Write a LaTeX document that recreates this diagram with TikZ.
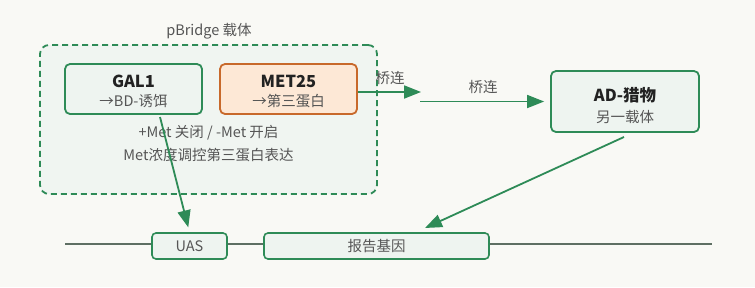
\documentclass[tikz,border=0pt]{standalone}
\usepackage{fontspec}
\setmainfont{Noto Sans CJK SC}
\usetikzlibrary{arrows.meta}
\definecolor{bgc}{HTML}{F9F9F5}
\definecolor{gline}{HTML}{2E8B57}
\definecolor{gfill}{HTML}{EEF4F0}
\definecolor{ofill}{HTML}{FDE8D6}
\definecolor{oline}{HTML}{C8692B}
\definecolor{txtg}{HTML}{555555}
\definecolor{txtd}{HTML}{222222}
\definecolor{dnaline}{HTML}{5E6F63}
\tikzset{
  genebox/.style={draw=gline, line width=1.8pt, fill=gfill, rounded corners=5pt, minimum width=137pt, minimum height=50pt, inner sep=0pt},
  metbox/.style={genebox, draw=oline, fill=ofill},
  elbox/.style={draw=gline, line width=1.6pt, fill=gfill, rounded corners=4pt, minimum height=26pt, inner sep=0pt},
  lbl/.style={text=txtg, font=\fontsize{14.5}{16}\selectfont, inner sep=0pt},
  bld/.style={text=txtd, font=\bfseries\fontsize{16.5}{18}\selectfont, inner sep=0pt},
  arr/.style={draw=gline, line width=1.8pt, -{Triangle[length=17pt,width=13pt]}}
}
\begin{document}
\begin{tikzpicture}[x=1pt,y=-1pt]
\useasboundingbox[fill=bgc] (0,0) rectangle (755,287);
% carrier box
\node[draw=gline, line width=1.8pt, dash pattern=on 6pt off 4pt, fill=gfill!80!bgc, rounded corners=9pt, minimum width=337pt, minimum height=149pt, inner sep=0pt] (carrier) at (208.5,119.5) {};
\node[lbl] (ctitle) at (209,31) {pBridge 载体};
% DNA line
\coordinate (dl) at (65,244);
\coordinate (dr) at (712,244);
\draw[dnaline, line width=2.8pt] (dl) -- (dr);
\node[elbox, minimum width=75pt] (uas) at (189.5,246) {};
\node[lbl] at (uas) {UAS};
\node[elbox, minimum width=225pt] (rep) at (376.5,246) {};
\node[lbl] at (rep) {报告基因};
% gene boxes
\node[genebox] (gal) at (133.5,89) {};
\node[bld] (galt) at (133.5,81) {GAL1};
\node[lbl] (gals) at (133.5,101) {→BD-诱饵};
\node[metbox] (met) at (288.5,89) {};
\node[bld] (mett) at (288.5,81) {MET25};
\node[lbl] (mets) at (288.5,101) {→第三蛋白};
\node[lbl] (n1) at (208.5,133) {+Met 关闭 / -Met 开启};
\node[lbl] (n2) at (208.5,155) {Met浓度调控第三蛋白表达};
% AD box
\node[genebox, minimum width=148pt, minimum height=61pt] (ad) at (625,101.5) {};
\node[bld] (adt) at (625,95) {AD-猎物};
\node[lbl] (ads) at (625,117) {另一载体};
% arrows
\coordinate (a1s) at ([yshift=-3pt]met.east);
\coordinate (a1e) at (421,92);
\draw[arr] (a1s) -- (a1e);
\node[lbl] (b1) at (390,78) {桥连};
\coordinate (a2s) at (420,101.5);
\draw[arr, shorten >=6pt] (a2s) -- (ad.west);
\node[lbl] (b2) at (483,87) {桥连};
\coordinate (g1) at (160,117);
\draw[arr, shorten >=5pt] (g1) -- (uas.north);
\coordinate (ad1) at (624,137);
\coordinate (ad2) at (425,228);
\draw[arr] (ad1) -- (ad2);
\end{tikzpicture}
\end{document}
